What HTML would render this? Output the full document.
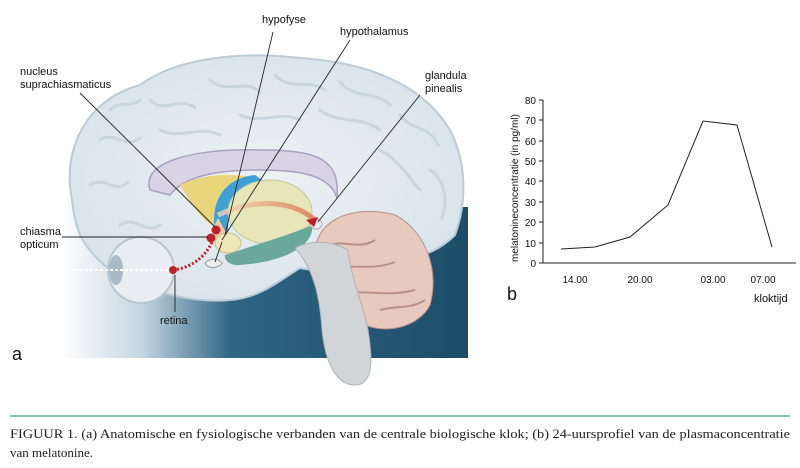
<!DOCTYPE html>
<html><head><style>
body{margin:0;width:800px;height:468px;background:#fff;overflow:hidden;font-family:"Liberation Sans",sans-serif}
</style></head><body>
<svg width="800" height="468" viewBox="0 0 800 468" xmlns="http://www.w3.org/2000/svg" style="position:absolute;left:0;top:0">
<defs>
<linearGradient id="bg" x1="0" y1="0" x2="1" y2="0">
<stop offset="0" stop-color="#fff"/><stop offset="0.2" stop-color="#c5d6e2"/><stop offset="0.42" stop-color="#2f6485"/><stop offset="1" stop-color="#1d4d68"/>
</linearGradient>
<radialGradient id="br" cx="0.5" cy="0.5" r="0.6">
<stop offset="0" stop-color="#edf2f5"/><stop offset="1" stop-color="#d6e2ea"/>
</radialGradient>
<linearGradient id="red" x1="0" x2="1"><stop offset="0" stop-color="#f1d9b8"/><stop offset="1" stop-color="#e07050"/></linearGradient>
</defs>
<rect x="60" y="207" width="408" height="151" fill="url(#bg)"/>
<!-- brain -->
<path d="M72,200 C62,150 85,100 140,85 C180,55 250,52 300,58 C360,62 420,80 450,130 C468,165 466,205 455,235 C440,250 425,255 410,258 C380,265 330,275 300,268 C280,280 260,298 230,300 C200,303 170,295 150,290 C115,280 90,255 80,235 C75,222 73,212 72,200Z" fill="url(#br)" stroke="#bccbd6" stroke-width="2"/>
<g fill="none" stroke="#c7d6df" stroke-width="3" stroke-linecap="round">
<path d="M100,140 C115,130 125,150 140,138 M150,100 C165,115 180,95 195,108 M210,80 C225,95 245,78 260,92 M275,75 C290,92 310,78 325,90 M340,82 C355,100 375,90 390,105 M400,115 C410,130 430,125 438,145 M90,185 C105,175 115,195 128,182 M430,170 C445,180 448,200 442,218 M120,225 C135,215 145,235 160,225 M160,130 C180,140 200,125 220,135 M240,115 C260,125 280,110 300,120 M320,110 C340,125 360,115 380,130 M380,150 C400,160 410,180 420,190 M110,110 C120,100 130,108 140,100"/>
</g>
<!-- corpus callosum -->
<path d="M150,190 C140,160 200,148 260,150 C320,150 340,160 337,198 C330,175 300,170 260,170 C220,170 185,175 170,195Z" fill="#d9d3e6" stroke="#aaa0c4" stroke-width="1.5"/>
<!-- thalamus area -->
<path d="M180,185 C200,175 230,172 255,178 C240,200 235,220 220,228 C205,225 195,210 180,185Z" fill="#e9d67a"/>
<path d="M215,232 C210,200 225,178 255,175 L262,180 C240,188 228,205 228,232Z" fill="#3fa0d8"/>
<ellipse cx="270" cy="212" rx="42" ry="32" fill="#e6e6b8" stroke="#c6c79a"/>
<path d="M225,255 C255,245 290,235 312,225 C315,245 285,262 240,265 C230,266 224,260 225,255Z" fill="#6aa89a"/>
<path d="M218,215 C250,200 290,198 315,220" stroke="url(#red)" stroke-width="5" fill="none" opacity="0.8"/>
<path d="M218,218 C214,225 212,232 215,238 L228,236 Z" fill="#f2c9a0"/>
<ellipse cx="228" cy="243" rx="13" ry="10" fill="#ece6b8" stroke="#c9c08a"/>
<path d="M205,263 C210,258 218,258 222,263 C220,268 208,270 205,263Z" fill="#eee" stroke="#999"/>
<!-- cerebellum -->
<path d="M315,255 C315,215 360,205 395,215 C425,230 440,270 430,305 C420,325 390,335 365,325 C335,315 315,290 315,255Z" fill="#e8c9bd" stroke="#b89088"/>
<g stroke="#b89088" fill="none" stroke-width="2"><path d="M330,245 C345,240 360,250 375,240 M325,270 C345,262 370,272 395,262 M345,295 C360,288 385,298 415,290 M380,310 C395,305 410,310 425,300"/></g>
<!-- brainstem -->
<path d="M295,248 C315,270 320,300 322,330 C325,360 335,385 355,385 C375,385 372,355 368,330 C362,300 350,275 348,250 C330,240 310,240 295,248Z" fill="#d2d5d8" stroke="#aeb3b7"/>
<ellipse cx="316" cy="224" rx="6" ry="5" fill="#eee" stroke="#aaa"/>
<!-- eye -->
<circle cx="141" cy="270" r="33" fill="#e8eef2" stroke="#b9c6cf" stroke-width="2"/>
<ellipse cx="116" cy="270" rx="7" ry="15" fill="#a8bac6"/>
<path d="M173,270 C190,268 205,258 212,242" stroke="#c02028" stroke-width="3" stroke-dasharray="2,2" fill="none"/>
<path d="M60,270 L172,270" stroke="#fff" stroke-width="2" stroke-dasharray="3,2"/>
<circle cx="173" cy="270" r="4" fill="#c02028"/>
<circle cx="211" cy="238" r="4.5" fill="#c02028"/>
<circle cx="216" cy="230" r="4.5" fill="#c02028"/>
<path d="M306,220 L318,217 L314,227Z" fill="#c02028"/>
<!-- leader lines -->
<g stroke="#222" stroke-width="0.9" fill="none">
<path d="M80,93 L215,227"/><path d="M273,32 L225,235"/><path d="M350,40 L222,240"/>
<path d="M420,95 L318,222"/><path d="M62,237 L208,237"/><path d="M175,275 L175,312"/><path d="M215,262 L222,242"/>
</g>
<g font-size="11" fill="#111">
<text x="262" y="23">hypofyse</text>
<text x="340" y="35">hypothalamus</text>
<text x="20" y="75">nucleus</text><text x="20" y="88">suprachiasmaticus</text>
<text x="425" y="79">glandula</text><text x="425" y="92">pinealis</text>
<text x="20" y="235">chiasma</text><text x="20" y="248">opticum</text>
<text x="160" y="324">retina</text>
</g>
<text x="12" y="360" font-size="18" fill="#111">a</text>
<!-- chart -->
<g stroke="#222" stroke-width="1" fill="none">
<path d="M543,100 L543,263 L796,263"/>
<path d="M539,100h4M539,120h4M539,141h4M539,161h4M539,181h4M539,202h4M539,222h4M539,243h4M539,263h4"/>
<polyline points="561,249 595,247 630,237 668,205 703,121 737,125 772,247"/>
</g>
<g font-size="10" fill="#111" text-anchor="end">
<text x="536" y="104">80</text><text x="536" y="124">70</text><text x="536" y="145">60</text><text x="536" y="165">50</text><text x="536" y="185">40</text><text x="536" y="206">30</text><text x="536" y="226">20</text><text x="536" y="247">10</text><text x="536" y="267">0</text>
</g>
<text transform="translate(518,262) rotate(-90)" font-size="10" fill="#111">melatonineconcentratie (in pg/ml)</text>
<g font-size="10" fill="#111" text-anchor="middle">
<text x="575" y="283">14.00</text><text x="640" y="283">20.00</text><text x="713" y="283">03.00</text><text x="763" y="283">07.00</text>
</g>
<text x="754" y="302" font-size="11" fill="#111">kloktijd</text>
<text x="507" y="300" font-size="18" fill="#111">b</text>
<!-- caption -->
<line x1="10" y1="416" x2="790" y2="416" stroke="#3d9c84" stroke-width="1.2"/>
<text x="10" y="438" font-family="Liberation Serif,serif" font-size="13" fill="#222" textLength="780" lengthAdjust="spacingAndGlyphs">FIGUUR 1. (a) Anatomische en fysiologische verbanden van de centrale biologische klok; (b) 24-uursprofiel van de plasmaconcentratie</text>
<text x="10" y="457" font-family="Liberation Serif,serif" font-size="13" fill="#222">van melatonine.</text>
</svg>
</body></html>
